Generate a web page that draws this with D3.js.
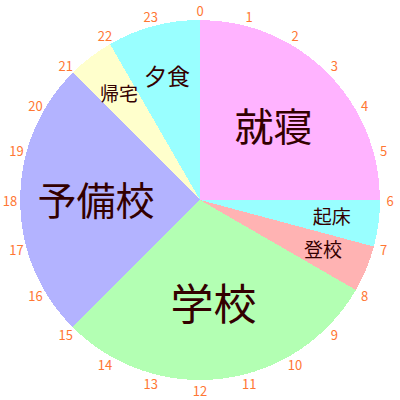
<html>
<head>
<script src="https://d3js.org/d3.v7.min.js"></script>
<style>
    body { margin: 0; background: #FFFFFF; }
    svg { display: block; }
    text { font-family: "Noto Sans CJK JP", "DejaVu Sans", sans-serif; }
</style>
</head>
<body>
<div id="chart"></div>
<script type="text/javascript">
    // daily schedule, hours per activity starting at 0:00
    var activities = ["就寝", "起床", "登校", "学校", "予備校", "帰宅", "夕食"];
    var hours      = [6, 1, 1, 7, 6, 1, 2];
    var colors     = ["#ffb3ff", "#99ffff", "#ffb3b3", "#b3ffb3", "#b3b3ff", "#ffffcc", "#99ffff"];
    var hourTicks  = d3.range(0, 24);

    var width = 400, height = 400;
    var radius = 180;

    var svg = d3.select("#chart").append("svg")
        .attr("width", width)
        .attr("height", height);

    var g = svg.append("g")
        .attr("transform", "translate(" + width / 2 + "," + height / 2 + ")");

    var pie = d3.pie().sort(null).value(function(d) { return d; });
    var arcs = pie(hours);

    var arc = d3.arc().innerRadius(0).outerRadius(radius);

    g.selectAll("path.slice")
        .data(arcs)
        .enter().append("path")
        .attr("class", "slice")
        .attr("d", arc)
        .attr("fill", function(d, i) { return colors[i]; })
        .attr("shape-rendering", "crispEdges");

    // label size and distance depend on slice size
    var fontSize = d3.scaleLinear().domain([1, 7]).range([19, 43]);
    var labelRadius = d3.scaleLinear().domain([1, 6]).range([133, 104]).clamp(true);

    g.selectAll("text.name")
        .data(arcs)
        .enter().append("text")
        .attr("class", "name")
        .attr("transform", function(d) {
            var a = (d.startAngle + d.endAngle) / 2;
            var r = labelRadius(d.value);
            return "translate(" + (Math.sin(a) * r) + "," + (-Math.cos(a) * r - 2) + ")";
        })
        .attr("text-anchor", "middle")
        .attr("dominant-baseline", "central")
        .attr("font-size", function(d) { return fontSize(d.value); })
        .attr("fill", "#330000")
        .text(function(d, i) { return activities[i]; });

    // hour numbers round the clock
    var hourAngle = d3.scaleLinear().domain([0, 24]).range([0, 2 * Math.PI]);

    g.selectAll("text.hour")
        .data(hourTicks)
        .enter().append("text")
        .attr("class", "hour")
        .attr("x", function(h) { return Math.sin(hourAngle(h)) * 190; })
        .attr("y", function(h) { return -Math.cos(hourAngle(h)) * 190; })
        .attr("text-anchor", "middle")
        .attr("dominant-baseline", "central")
        .attr("font-size", 13)
        .attr("fill", "#ff7733")
        .text(function(h) { return h; });
</script>
</body>
</html>
